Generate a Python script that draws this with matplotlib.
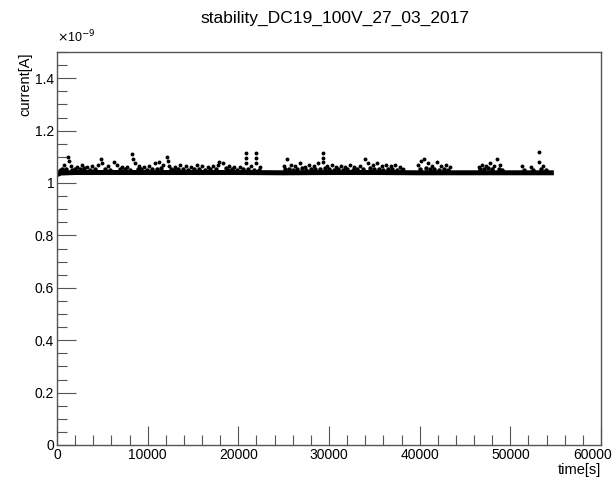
import numpy as np
import matplotlib.pyplot as plt
from matplotlib.ticker import MultipleLocator, FuncFormatter
from matplotlib.transforms import ScaledTranslation

plt.rcParams['font.family'] = ['Liberation Sans', 'DejaVu Sans']

title = 'stability_DC19_100V_27_03_2017'

# dense baseline band (time [s], current [1e-9 A])
base_t = [0, 400, 2000, 6000, 10000, 15000, 20000, 25000, 30000, 35000, 40000, 45000, 50000, 54800]
base_i = [1.032, 1.038, 1.040, 1.040, 1.040, 1.040, 1.040, 1.039, 1.040, 1.040, 1.039, 1.039, 1.039, 1.039]

# excursions above the band
spike_t = [300, 800, 1200, 1300, 1500, 2200, 2800, 3300, 3900, 4500, 4800, 5000, 5600, 6300, 6600,
           7200, 7700, 8300, 8400, 8600, 9000, 9600,
           10200, 10800, 11300, 11700, 12100, 12200, 12300, 13000, 13600, 14200, 14800, 15400, 16000,
           16600, 17200, 17800, 17900, 18300, 19000, 19500,
           20200, 20800, 20800, 20800, 21400, 22000, 22000, 22000, 22400, 25000, 25400, 25800, 26300,
           26800, 27300, 27800, 28300, 28800, 29300, 29300, 29300, 29800, 30300,
           30800, 31300, 31800, 32300, 32800, 33400, 34000, 34300, 34800, 35300, 35800, 36300, 36800,
           37300, 37800, 38200,
           39800, 40200, 40500, 40900, 41400, 41900, 42400, 42900, 43300,
           46500, 46900, 47300, 47800, 48200, 48500, 48900, 51300, 52300, 53200, 53200, 53600]
spike_i = [1.05, 1.07, 1.10, 1.085, 1.065, 1.06, 1.07, 1.06, 1.065, 1.07, 1.09, 1.075, 1.065, 1.08, 1.07,
           1.06, 1.06, 1.11, 1.09, 1.075, 1.065, 1.06,
           1.065, 1.075, 1.08, 1.07, 1.10, 1.085, 1.065, 1.06, 1.07, 1.065, 1.06, 1.07, 1.065,
           1.06, 1.065, 1.07, 1.08, 1.075, 1.065, 1.06,
           1.06, 1.115, 1.095, 1.075, 1.065, 1.115, 1.095, 1.075, 1.06, 1.065, 1.09, 1.07, 1.065,
           1.075, 1.06, 1.07, 1.065, 1.075, 1.115, 1.095, 1.08, 1.065, 1.07,
           1.06, 1.065, 1.06, 1.07, 1.06, 1.065, 1.09, 1.075, 1.07, 1.075, 1.065, 1.07, 1.065,
           1.07, 1.06, 1.055,
           1.07, 1.085, 1.09, 1.075, 1.065, 1.08, 1.065, 1.07, 1.06,
           1.06, 1.07, 1.065, 1.075, 1.065, 1.09, 1.07, 1.065, 1.06, 1.12, 1.08, 1.065]

# smaller bumps just above the band
bump_t = [500, 1000, 1700, 2000, 2500, 3000, 3600, 4200, 5300, 5900, 6900, 7500, 8000, 8900, 9300,
          9900, 10500, 11000, 11500, 12600, 12900, 13300, 13900, 14500, 15100, 15700, 16300, 16900,
          17500, 18600, 18900, 19300, 19800, 20500, 21100, 21700, 22300,
          25200, 25600, 26000, 26500, 27000, 27500, 28000, 28500, 29000, 29600, 30000, 30600, 31000,
          31500, 32000, 32600, 33100, 33700, 34500, 35000, 35500, 36000, 36500, 37000, 37500, 38000,
          40000, 40700, 41100, 41600, 42100, 42700, 43100,
          46700, 47100, 47500, 48000, 48700, 49100, 51500, 52500, 53400, 53900]
bump_i = [1.052, 1.055, 1.05, 1.054, 1.052, 1.056, 1.05, 1.055, 1.054, 1.05, 1.055, 1.052, 1.05, 1.054, 1.052,
          1.05, 1.055, 1.052, 1.056, 1.052, 1.05, 1.054, 1.052, 1.05, 1.055, 1.052, 1.05, 1.054,
          1.052, 1.056, 1.05, 1.054, 1.05, 1.052, 1.055, 1.05, 1.05,
          1.052, 1.055, 1.05, 1.054, 1.056, 1.05, 1.055, 1.052, 1.054, 1.056, 1.052, 1.05, 1.055,
          1.05, 1.054, 1.05, 1.052, 1.055, 1.056, 1.052, 1.054, 1.05, 1.055, 1.052, 1.05, 1.05,
          1.055, 1.056, 1.052, 1.054, 1.05, 1.055, 1.05,
          1.054, 1.052, 1.056, 1.055, 1.052, 1.05, 1.05, 1.05, 1.054, 1.05]

fig = plt.figure(figsize=(6.14, 4.78), dpi=100)
ax = fig.add_axes([57 / 614, 33 / 478, 544 / 614, 393 / 478])

ax.plot(base_t, base_i, color='black', lw=3.6, solid_capstyle='butt')
ax.plot(bump_t, bump_i, 'o', color='black', ms=3.2, mew=0)
ax.plot(spike_t, spike_i, 'o', color='black', ms=2.8, mew=0)

ax.set_xlim(0, 60000)
ax.set_ylim(0, 1.5)
ax.xaxis.set_major_locator(MultipleLocator(10000))
ax.xaxis.set_minor_locator(MultipleLocator(2000))
ax.yaxis.set_major_locator(MultipleLocator(0.2))
ax.yaxis.set_minor_locator(MultipleLocator(0.05))
ax.yaxis.set_major_formatter(FuncFormatter(lambda v, p: '%g' % round(v, 2)))
ax.tick_params(which='both', direction='in', top=False, right=False, labelsize=10, pad=2)
ax.tick_params(which='major', length=14, width=0.8, color='#555555')
ax.tick_params(which='minor', length=7, width=0.8, color='#555555')
for s in ax.spines.values():
    s.set_color('#555555')
    s.set_linewidth(1.0)

fig.text(0.545, 0.962, title, ha='center', va='center', fontsize=12.5)
fig.text(57 / 614, 1 - 45 / 478, r'$\times$10$^{-9}$', ha='left', va='bottom', fontsize=9)
ax.set_xlabel('time[s]', fontsize=10.5, loc='right', labelpad=1)
ax.set_ylabel('current[A]', fontsize=10.5, loc='top', labelpad=2)

# keep the last x label inside the canvas, as ROOT does
fig.canvas.draw()
for tick in ax.xaxis.get_major_ticks():
    if tick.label1.get_text() == '60000':
        tick.label1.set_ha('right')
        tick.label1.set_transform(tick.label1.get_transform() + ScaledTranslation(0.11, 0, fig.dpi_scale_trans))

fig.savefig('out.png', dpi=100)
